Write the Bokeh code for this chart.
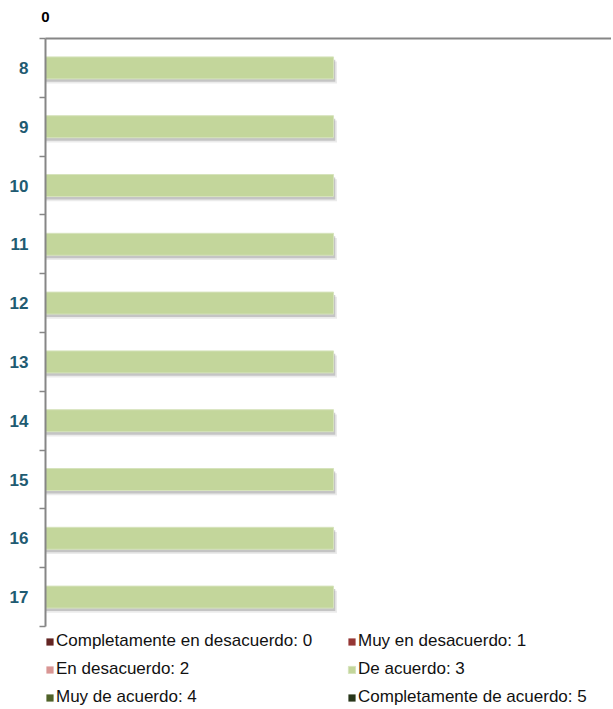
from bokeh.plotting import figure
from bokeh.models import ColumnDataSource, Range1d, LinearAxis, FixedTicker, Legend, LegendItem
from bokeh.transform import dodge
from bokeh.embed import file_html
from bokeh.resources import INLINE

# ---- data ----
categories = ["8", "9", "10", "11", "12", "13", "14", "15", "16", "17"]
completamente_en_desacuerdo = [0, 0, 0, 0, 0, 0, 0, 0, 0, 0]
muy_en_desacuerdo = [0, 0, 0, 0, 0, 0, 0, 0, 0, 0]
en_desacuerdo = [0, 0, 0, 0, 0, 0, 0, 0, 0, 0]
de_acuerdo = [1, 1, 1, 1, 1, 1, 1, 1, 1, 1]
muy_de_acuerdo = [0, 0, 0, 0, 0, 0, 0, 0, 0, 0]
completamente_de_acuerdo = [0, 0, 0, 0, 0, 0, 0, 0, 0, 0]

series_keys = ["s0", "s1", "s2", "s3", "s4", "s5"]
series_labels = [
    "Completamente en desacuerdo: 0",
    "Muy en desacuerdo: 1",
    "En desacuerdo: 2",
    "De acuerdo: 3",
    "Muy de acuerdo: 4",
    "Completamente de acuerdo: 5",
]
series_colors = ["#632523", "#953735", "#D99694", "#C3D69B", "#4F6228", "#28361A"]
top_tick_values = [0]

series_values = [completamente_en_desacuerdo, muy_en_desacuerdo, en_desacuerdo,
                 de_acuerdo, muy_de_acuerdo, completamente_de_acuerdo]

n = len(categories)
ys = [i + 0.5 for i in range(n)]
totals = [sum(vals) for vals in zip(*series_values)]
data = dict(cat=categories, y=ys, total=totals)
for k, v in zip(series_keys, series_values):
    data[k] = v
source = ColumnDataSource(data)

AXIS_COLOR = "#868686"
FONT = "Liberation Sans"

# layout (pixels)
BARS_H = 588          # height of the category area
LEGEND_H = 83         # extra frame room below the categories for the legend
FRAME_W = 566
frame_h = BARS_H + LEGEND_H

p = figure(frame_width=FRAME_W, frame_height=frame_h,
           x_range=Range1d(0, 1.965), y_range=Range1d(n * frame_h / BARS_H, 0),
           output_backend="svg", toolbar_location=None,
           x_axis_location=None, y_axis_location=None,
           min_border_left=45, min_border_top=38, min_border_right=0,
           min_border_bottom=0)
p.outline_line_color = None
p.xgrid.visible = False
p.ygrid.visible = False
p.background_fill_color = "white"

BAR_H = 0.374
# soft shadow under bars
p.hbar(y=dodge("y", 0.08, range=p.y_range), left=0, right=dodge("total", 0.012, range=p.x_range),
       height=BAR_H, source=source, fill_color="#9a9a9a", fill_alpha=0.2, line_color=None)
p.hbar(y=dodge("y", 0.05, range=p.y_range), left=0, right=dodge("total", 0.006, range=p.x_range),
       height=BAR_H, source=source, fill_color="#8a8a8a", fill_alpha=0.4, line_color=None)

renderers = p.hbar_stack(series_keys, y="y", height=BAR_H, source=source,
                         color=series_colors, line_color=None)
renderers[3].glyph.line_color = "#D6E3BC"
renderers[3].glyph.line_width = 1

# top axis
top_axis = LinearAxis(ticker=FixedTicker(ticks=top_tick_values))
top_axis.axis_line_color = AXIS_COLOR
top_axis.axis_line_width = 2
top_axis.major_tick_out = 0
top_axis.major_tick_in = 0
top_axis.minor_tick_out = 0
top_axis.minor_tick_in = 0
top_axis.major_label_standoff = 17
top_axis.major_label_text_font = FONT
top_axis.major_label_text_font_style = "bold"
top_axis.major_label_text_font_size = "15px"
top_axis.major_label_text_color = "black"
p.add_layout(top_axis, "above")

# left axis (only over the categories)
left_axis = LinearAxis(ticker=FixedTicker(ticks=ys, minor_ticks=list(range(n + 1))),
                       bounds=(0, n))
left_axis.major_label_overrides = {y: c for y, c in zip(ys, categories)}
left_axis.axis_line_color = AXIS_COLOR
left_axis.axis_line_width = 2
left_axis.major_tick_out = 0
left_axis.major_tick_in = 0
left_axis.minor_tick_out = 6
left_axis.minor_tick_in = 0
left_axis.minor_tick_line_color = AXIS_COLOR
left_axis.minor_tick_line_width = 1.5
left_axis.major_label_standoff = 11
left_axis.major_label_text_font = FONT
left_axis.major_label_text_font_style = "bold"
left_axis.major_label_text_font_size = "17px"
left_axis.major_label_text_color = "#1F5B72"
p.add_layout(left_axis, "left")

items = [LegendItem(label=lab, renderers=[r]) for lab, r in zip(series_labels, renderers)]
legend = Legend(items=items, ncols=2, orientation="horizontal", location=(0, 2))
legend.margin = 0
legend.padding = 0
legend.border_line_color = None
legend.background_fill_alpha = 0
legend.glyph_width = 9
legend.glyph_height = 9
legend.label_standoff = 2
legend.label_height = 20
legend.label_width = 283
legend.spacing = 8
legend.label_text_font = FONT
legend.label_text_font_size = "17px"
legend.label_text_color = "#111111"
p.add_layout(legend)

open("out.html", "w").write(file_html(p, INLINE))
